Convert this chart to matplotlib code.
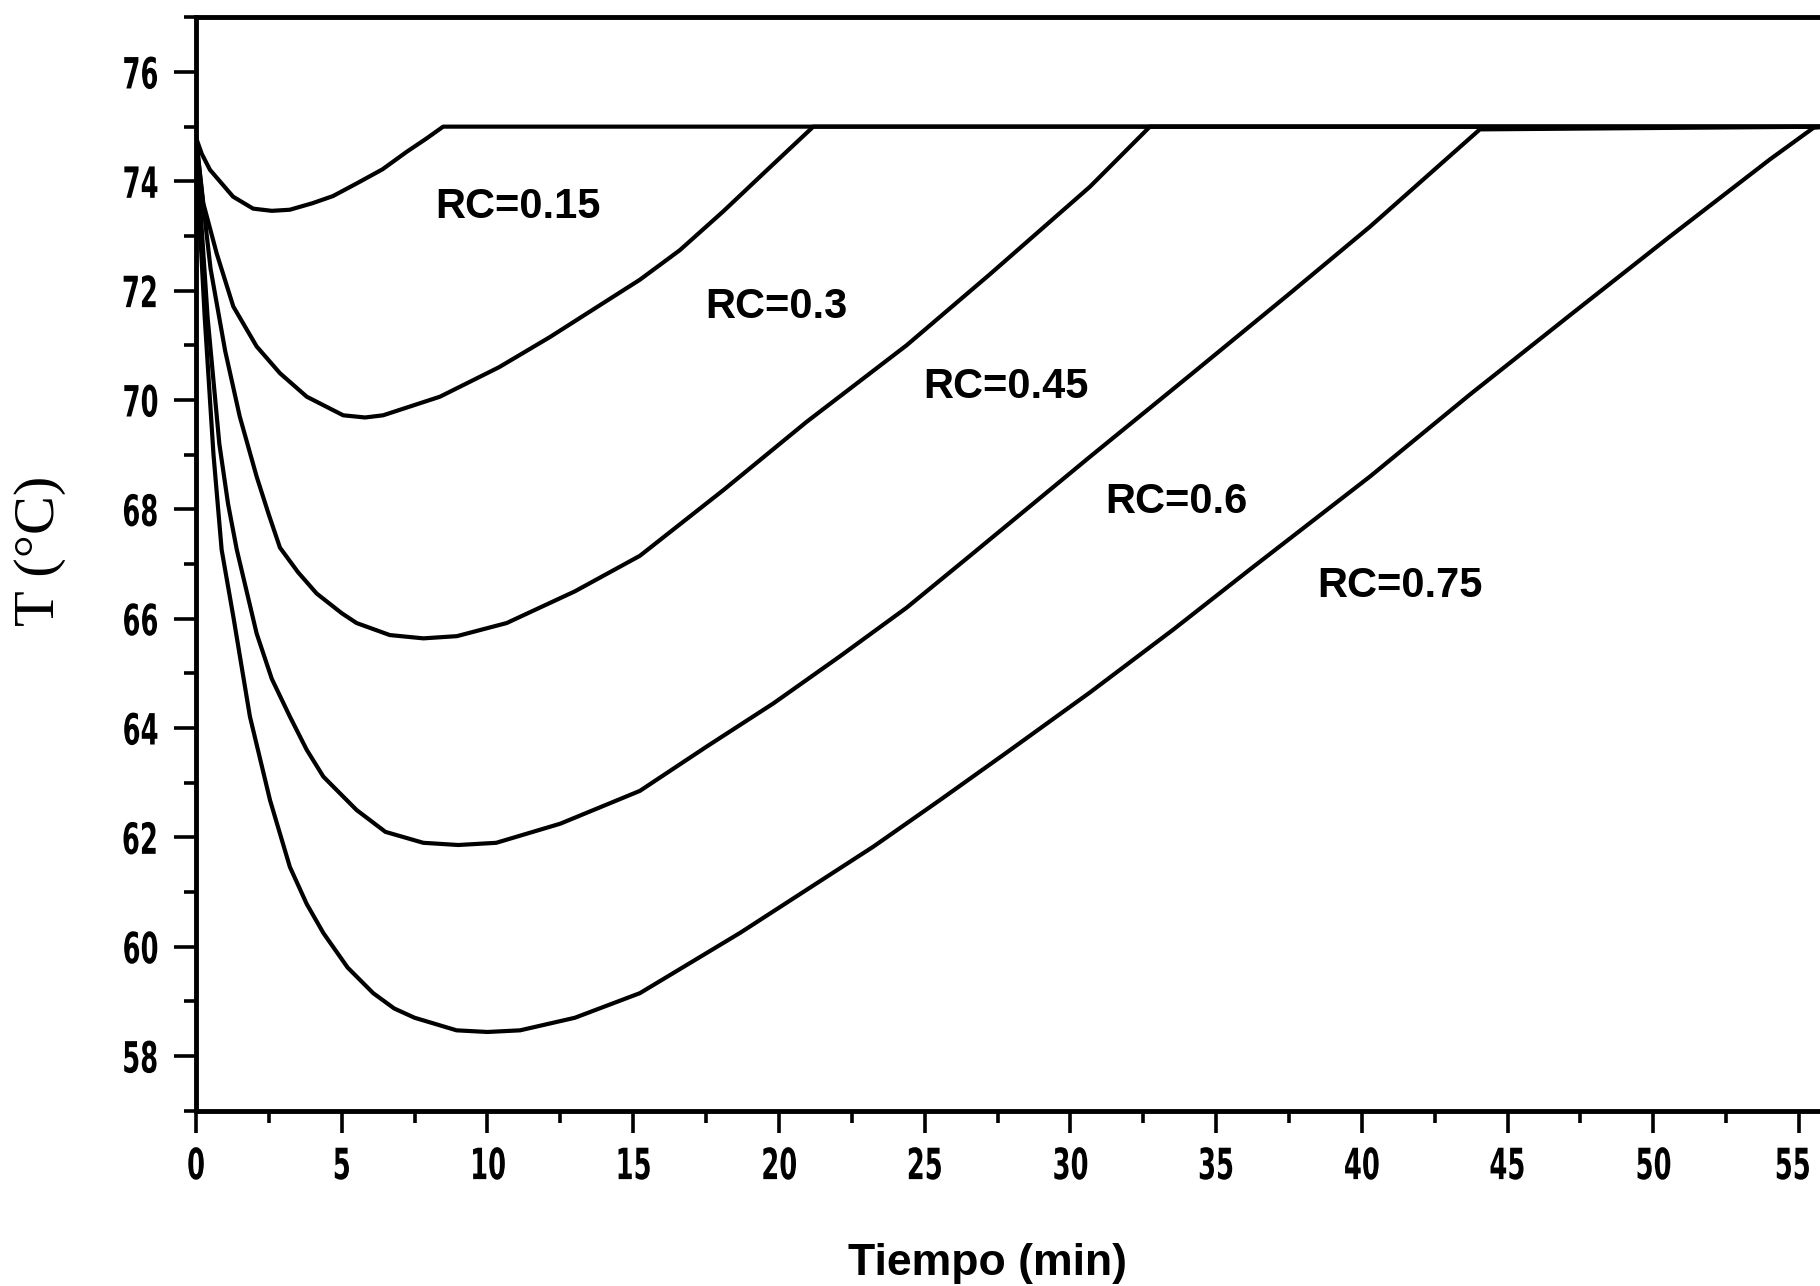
import matplotlib
matplotlib.use("Agg")
import matplotlib.pyplot as plt
from matplotlib.patheffects import AbstractPathEffect
from matplotlib.transforms import Affine2D, ScaledTranslation

# ---------------- data ----------------
t_rc015 = [0, 0.2, 0.48, 1.27, 1.96, 2.6, 3.22, 4.0, 4.7, 5.51, 6.4, 7.23, 7.9, 8.48, 56]
T_rc015 = [74.8, 74.5, 74.21, 73.72, 73.5, 73.46, 73.48, 73.6, 73.73, 73.96, 74.22, 74.54, 74.78, 75.0, 75.0]

t_rc030 = [0, 0.25, 0.71, 1.28, 2.08, 2.88, 3.8, 5.05, 5.8, 6.42, 8.37, 10.4, 12.14, 15.23, 16.6,
           18.09, 19.58, 21.18, 56]
T_rc030 = [74.8, 73.6, 72.68, 71.71, 70.98, 70.49, 70.06, 69.72, 69.68, 69.72, 70.06, 70.6, 71.15,
           72.2, 72.74, 73.45, 74.2, 75.0, 75.0]

t_rc045 = [0, 0.2, 0.5, 1.0, 1.5, 2.08, 2.5, 2.88, 3.5, 4.14, 5.0, 5.51, 6.65, 7.8, 8.95, 10.66,
           13.0, 15.23, 18.09, 20.95, 24.38, 27.24, 30.67, 32.73, 56]
T_rc045 = [74.8, 73.8, 72.4, 70.9, 69.7, 68.6, 67.9, 67.3, 66.85, 66.46, 66.1, 65.92, 65.7, 65.64,
           65.68, 65.92, 66.5, 67.15, 68.35, 69.6, 71.0, 72.3, 73.9, 75.0, 75.0]

t_rc060 = [0, 0.15, 0.4, 0.8, 1.1, 1.4, 2.08, 2.6, 3.22, 3.8, 4.37, 5.51, 6.5, 7.8, 9.0, 10.3, 12.5,
           15.23, 17.52, 19.81, 22.09, 24.38, 26.67, 30.67, 34.1, 37.53, 40.28, 44.05, 56]
T_rc060 = [74.8, 73.5, 71.5, 69.2, 68.1, 67.26, 65.73, 64.9, 64.21, 63.6, 63.11, 62.5, 62.1, 61.9,
           61.86, 61.9, 62.25, 62.85, 63.66, 64.45, 65.31, 66.2, 67.2, 68.96, 70.45, 71.95, 73.17,
           74.95, 75.0]

t_rc075 = [0, 0.1, 0.3, 0.6, 0.88, 1.28, 1.85, 2.54, 3.22, 3.8, 4.37, 5.2, 6.08, 6.8, 7.5, 8.94,
           10.0, 11.12, 13.0, 15.23, 18.66, 20.95, 23.24, 25.52, 27.81, 30.67, 33.53, 36.16,
           40.28, 43.71, 47.14, 50.57, 54.0, 55.5, 56]
T_rc075 = [74.8, 73.5, 71.5, 69.0, 67.26, 66.04, 64.21, 62.68, 61.46, 60.78, 60.25, 59.62, 59.15,
           58.87, 58.7, 58.47, 58.44, 58.47, 58.7, 59.15, 60.25, 61.04, 61.83, 62.68, 63.55,
           64.65, 65.8, 66.9, 68.6, 70.1, 71.55, 72.99, 74.4, 74.98, 75.0]

series_t = [t_rc015, t_rc030, t_rc045, t_rc060, t_rc075]
series_T = [T_rc015, T_rc030, T_rc045, T_rc060, T_rc075]

labels = ["RC=0.15", "RC=0.3", "RC=0.45", "RC=0.6", "RC=0.75"]
label_x = [8.2, 17.46, 24.95, 31.19, 38.46]
label_y = [73.33, 71.50, 70.04, 67.93, 66.40]

x_major = [0, 5, 10, 15, 20, 25, 30, 35, 40, 45, 50, 55]
x_minor = [2.5, 7.5, 12.5, 17.5, 22.5, 27.5, 32.5, 37.5, 42.5, 47.5, 52.5]
y_major = [58, 60, 62, 64, 66, 68, 70, 72, 74, 76]
y_minor = [57, 59, 61, 63, 65, 67, 69, 71, 73, 75, 77]

xlabel = "Tiempo (min)"
ylabel = "T (°C)"


# ---------------- helpers ----------------
class Condense(AbstractPathEffect):
    """Horizontally compress glyphs (to mimic a condensed bold face)."""

    def __init__(self, sx=0.6, anchor="center"):
        super().__init__()
        self.sx = sx
        self.anchor = anchor

    def draw_path(self, renderer, gc, tpath, affine, rgbFace=None):
        ext = tpath.get_extents()
        if self.anchor == "right":
            cx = ext.x1
        elif self.anchor == "left":
            cx = ext.x0
        else:
            cx = 0.5 * (ext.x0 + ext.x1)
        t = Affine2D().translate(-cx, 0).scale(self.sx, 1.0).translate(cx, 0) + affine
        renderer.draw_path(gc, tpath, t, rgbFace)


# ---------------- figure ----------------
W, H = 1820, 1286
fig = plt.figure(figsize=(W / 100, H / 100), dpi=100)
ax_left, ax_right, ax_top, ax_bot = 196, 1820, 17.3, 1110.7
ax = fig.add_axes([ax_left / W, 1 - ax_bot / H, (ax_right - ax_left) / W, (ax_bot - ax_top) / H])

for t, T in zip(series_t, series_T):
    ax.plot(t, T, color="black", lw=3.0, solid_joinstyle="round", solid_capstyle="round")

for lab, lx, ly in zip(labels, label_x, label_y):
    ax.text(lx, ly, lab, fontsize=30, fontweight="bold", family="Liberation Sans",
            ha="left", va="baseline", color="black")

ax.set_xlim(0, 55.72)
ax.set_ylim(57, 77)

ax.set_xticks(x_major)
ax.set_xticks(x_minor, minor=True)
ax.set_yticks(y_major)
ax.set_yticks(y_minor, minor=True)

for s in ["left", "bottom", "top"]:
    ax.spines[s].set_linewidth(3.5)
ax.spines["right"].set_visible(False)

ax.tick_params(which="major", direction="out", length=15.5, width=2.6, labelsize=31)
ax.tick_params(which="minor", direction="out", length=8.6, width=2.6)
ax.tick_params(axis="x", which="major", pad=10)
ax.tick_params(axis="y", which="major", pad=11)
ax.tick_params(top=False, right=False, which="both")

xlbls = ax.get_xticklabels()
for lbl in xlbls:
    lbl.set_fontweight("bold")
    lbl.set_family("DejaVu Sans")
    lbl.set_path_effects([Condense(0.6, "center")])
# the last label sits at the right edge of the figure: right-align it so it stays inside
last = xlbls[-1]
last.set_ha("right")
last.set_path_effects([Condense(0.6, "right")])
last.set_transform(last.get_transform() + ScaledTranslation(0.13, 0, fig.dpi_scale_trans))

for lbl in ax.get_yticklabels():
    lbl.set_fontweight("bold")
    lbl.set_family("DejaVu Sans")
    lbl.set_path_effects([Condense(0.6, "right")])

ax.set_xlabel(xlabel, fontsize=32, fontweight="bold", family="Liberation Sans")
ax.xaxis.label.set_va("center")
ax.xaxis.set_label_coords((987 - ax_left) / (ax_right - ax_left), (ax_bot - 1263) / (ax_bot - ax_top))

ax.set_ylabel(ylabel, fontsize=42, family="Liberation Serif")
ax.yaxis.label.set_va("center")
ax.yaxis.label.set_ha("center")
ax.yaxis.set_label_coords((40 - ax_left) / (ax_right - ax_left), (ax_bot - 551) / (ax_bot - ax_top))

fig.savefig("out.png", dpi=100, facecolor="white")
